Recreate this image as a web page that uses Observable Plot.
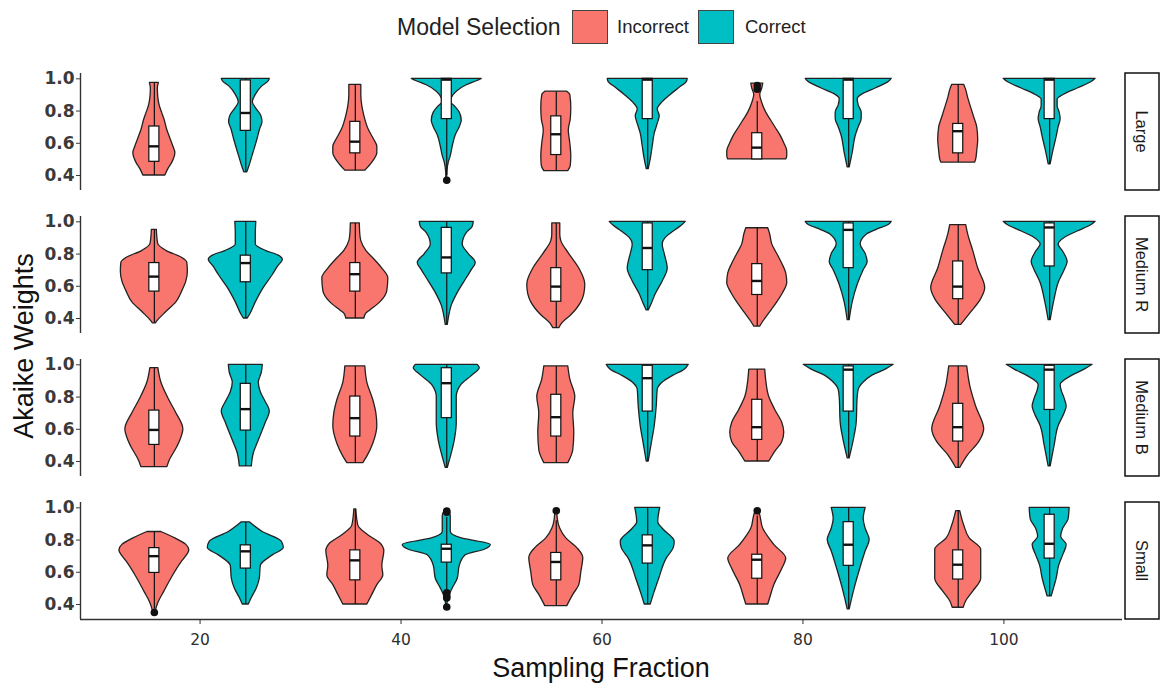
<!DOCTYPE html>
<html>
<head>
<meta charset="utf-8">
<script src="https://cdn.jsdelivr.net/npm/d3@7"></script>
<script src="https://cdn.jsdelivr.net/npm/@observablehq/plot@0.6"></script>
<style>
  html, body { margin: 0; padding: 0; background: #fff; }
  body { width: 1160px; height: 684px; overflow: hidden; font-family: "Liberation Sans", Arial, sans-serif; }
  #legend { position: relative; width: 1160px; height: 54px; }
  #legend .lt { position: absolute; top: 10px; height: 34px; line-height: 34px; font-size: 23px; color: #222; white-space: nowrap; }
  #legend .ll { position: absolute; top: 10px; height: 34px; line-height: 34px; font-size: 18.5px; color: #222; white-space: nowrap; }
  #legend .sw { position: absolute; top: 10px; width: 36px; height: 34px; box-sizing: border-box; border: 1px solid #444; }
  #chart svg { display: block; }
</style>
</head>
<body>
<div id="legend"></div>
<div id="chart"></div>
<script>
// ---------------- DATA ----------------
const panels = ["Large", "Medium R", "Medium B", "Small"];
const fractions = [20, 40, 60, 80, 100];
const selections = ["Incorrect", "Correct"];
const selectionColors = ["#F8766D", "#00BFC4"];
const xTicks = [20, 40, 60, 80, 100];
const yTicks = [0.4, 0.6, 0.8, 1.0];

// Violin profiles: [Akaike weight, half-width density], order per panel:
// 20 Incorrect, 20 Correct, 40 Incorrect, 40 Correct, ... 100 Correct
const largeProfiles = [
  [[0.975,4.5],[0.94,3.5],[0.88,4],[0.83,5.5],[0.79,7.7],[0.74,10.5],[0.69,12.5],[0.63,16],[0.58,19],[0.54,21],[0.48,18],[0.44,14],[0.40,11]],
  [[1.0,24],[0.985,23],[0.95,16],[0.90,10],[0.855,7],[0.81,11],[0.77,15.5],[0.73,16.7],[0.69,14.5],[0.625,11.7],[0.52,6.7],[0.44,2.7],[0.42,1.5]],
  [[0.9625,6],[0.90,6],[0.83,7],[0.77,9],[0.69,13],[0.62,19],[0.58,22],[0.54,22],[0.48,17],[0.43,10]],
  [[1.0,35],[0.985,30],[0.96,20],[0.92,10],[0.88,5],[0.855,4],[0.83,8],[0.79,13],[0.74,15],[0.70,13],[0.65,9],[0.58,6],[0.52,4],[0.48,2],[0.42,0.6],[0.371,0.4]],
  [[0.92,11],[0.90,14],[0.82,15],[0.75,14.5],[0.68,12.5],[0.60,14],[0.52,15],[0.46,14.5],[0.427,12]],
  [[1.0,40],[0.98,39],[0.94,31],[0.90,23],[0.855,15],[0.81,10],[0.77,12],[0.72,10],[0.66,7],[0.58,5],[0.50,3],[0.44,1]],
  [[0.97,6],[0.94,5],[0.90,3],[0.85,5],[0.79,9],[0.74,14],[0.69,19],[0.64,24],[0.60,27],[0.55,30],[0.52,30],[0.50,29]],
  [[1.0,43],[0.98,40],[0.94,27],[0.90,13],[0.875,9],[0.835,10],[0.79,13],[0.75,13],[0.70,10],[0.645,7],[0.54,4],[0.45,1]],
  [[0.9625,6],[0.93,8],[0.88,10],[0.82,13],[0.76,16],[0.70,19],[0.62,20],[0.55,19],[0.50,18],[0.48,17]],
  [[1.0,46],[0.98,42],[0.94,28],[0.90,14],[0.87,8],[0.83,8],[0.79,10],[0.75,11],[0.70,9],[0.64,7],[0.56,4],[0.47,1]]
];
const mediumRProfiles = [
  [[0.95,2.5],[0.90,3],[0.86,4],[0.82,12],[0.775,28],[0.745,33],[0.69,33.5],[0.63,32],[0.57,28],[0.50,22],[0.44,12],[0.39,4],[0.37,1.5]],
  [[1.0,10.5],[0.92,10],[0.86,10],[0.82,20],[0.79,33],[0.765,37],[0.72,32],[0.67,27],[0.59,18],[0.50,10],[0.42,4],[0.40,2]],
  [[0.99,4.5],[0.92,5],[0.88,6],[0.82,11],[0.76,20],[0.71,27],[0.65,33],[0.57,32],[0.50,25],[0.45,15],[0.43,11],[0.40,9]],
  [[1.0,27],[0.97,26],[0.93,20],[0.86,16],[0.80,22],[0.745,29],[0.70,25],[0.65,20],[0.57,12],[0.48,5],[0.40,2],[0.36,1]],
  [[0.99,4],[0.92,4],[0.88,5],[0.80,13],[0.71,23],[0.61,29],[0.55,28],[0.50,25],[0.42,15],[0.37,6],[0.34,3]],
  [[1.0,38],[0.975,34],[0.94,26],[0.90,18],[0.86,15],[0.80,17],[0.71,20],[0.63,15],[0.55,8],[0.49,4],[0.45,1]],
  [[0.96,11],[0.92,13],[0.86,15],[0.80,20],[0.74,25],[0.68,29],[0.62,30],[0.56,26],[0.50,20],[0.44,13],[0.38,6],[0.35,3]],
  [[1.0,43],[0.98,40],[0.95,28],[0.92,18],[0.86,12],[0.80,17],[0.75,19],[0.70,15],[0.61,9],[0.50,4],[0.39,1]],
  [[0.98,8],[0.92,10],[0.82,15],[0.71,20],[0.59,27],[0.52,23],[0.43,12],[0.36,3]],
  [[1.0,46],[0.98,42],[0.94,28],[0.90,15],[0.86,9],[0.81,14],[0.75,18],[0.70,15],[0.62,9],[0.52,5],[0.39,1]]
];
const mediumBProfiles = [
  [[0.98,4],[0.89,7],[0.78,15],[0.70,22],[0.60,29],[0.53,26],[0.49,23],[0.40,15],[0.365,13]],
  [[1.0,17],[0.95,16],[0.89,13],[0.83,15],[0.78,19],[0.71,24],[0.64,20],[0.53,13],[0.45,8],[0.37,6]],
  [[0.99,10],[0.89,12],[0.78,18],[0.70,21],[0.62,22],[0.51,18],[0.43,12],[0.39,8]],
  [[1.0,31],[0.98,33],[0.93,25],[0.87,14],[0.80,10],[0.71,10],[0.64,10],[0.53,8],[0.45,5],[0.36,1]],
  [[0.99,12],[0.91,14],[0.80,19],[0.70,17],[0.58,18],[0.47,17],[0.39,12]],
  [[1.0,41],[0.97,37],[0.93,25],[0.89,15],[0.845,10],[0.74,9],[0.62,7],[0.51,4],[0.40,1]],
  [[0.97,8],[0.90,9],[0.80,12],[0.72,18],[0.64,25],[0.58,27],[0.52,25],[0.46,18],[0.40,12]],
  [[1.0,45],[0.97,37],[0.93,23],[0.89,15],[0.845,10],[0.80,9],[0.64,8],[0.53,5],[0.42,1]],
  [[0.99,9],[0.87,12],[0.74,18],[0.60,26],[0.52,21],[0.44,10],[0.36,2]],
  [[1.0,43],[0.97,35],[0.93,22],[0.875,11],[0.84,12],[0.79,15],[0.74,17],[0.70,15],[0.62,9],[0.50,5],[0.37,1]]
];
const smallProfiles = [
  [[0.85,7],[0.81,21],[0.77,32],[0.735,35],[0.70,32],[0.66,27],[0.56,17],[0.48,10],[0.41,4],[0.35,1]],
  [[0.91,4],[0.85,17],[0.79,36],[0.75,38],[0.705,27],[0.64,15],[0.56,14],[0.50,11],[0.44,6],[0.40,3]],
  [[0.99,1],[0.89,3],[0.83,13],[0.78,25],[0.73,29],[0.64,27],[0.58,28],[0.52,22],[0.46,17],[0.40,12]],
  [[0.98,2],[0.95,4],[0.85,4],[0.81,15],[0.77,44],[0.74,38],[0.705,19],[0.64,13],[0.56,11],[0.50,6],[0.46,3],[0.42,1],[0.38,0.5]],
  [[0.98,1],[0.93,1.5],[0.87,4],[0.81,10],[0.75,21],[0.69,27],[0.60,25],[0.52,23],[0.46,17],[0.39,11]],
  [[1.0,12.5],[0.91,10.5],[0.87,15],[0.79,27],[0.75,26],[0.685,19],[0.56,11.5],[0.46,6],[0.40,3]],
  [[0.98,1],[0.97,2],[0.87,6],[0.77,17],[0.685,29],[0.62,25],[0.52,17],[0.44,13],[0.40,11]],
  [[1.0,17],[0.93,15],[0.87,17],[0.80,21],[0.73,17],[0.62,11.5],[0.50,6],[0.37,1]],
  [[0.98,2],[0.89,6],[0.81,11.5],[0.74,23],[0.64,23],[0.56,23],[0.48,15],[0.42,8],[0.38,5.5]],
  [[1.0,20],[0.93,19],[0.87,13.5],[0.82,11.5],[0.77,17],[0.705,13.5],[0.64,9.5],[0.56,7],[0.45,2]]
];

// Box statistics: [lower whisker, Q1, median, Q3, upper whisker]
const largeBoxes = [
  [0.40,0.485,0.581,0.704,0.975],[0.42,0.677,0.788,0.99,1.0],
  [0.43,0.5375,0.61,0.733,0.9625],[0.40,0.75,0.995,1.0,1.0],
  [0.427,0.527,0.656,0.767,0.92],[0.44,0.75,0.995,1.0,1.0],
  [0.50,0.50,0.573,0.6625,0.86],[0.45,0.75,0.995,1.0,1.0],
  [0.48,0.5375,0.675,0.72,0.9625],[0.47,0.75,0.995,1.0,1.0]
];
const mediumRBoxes = [
  [0.37,0.567,0.66,0.744,0.95],[0.40,0.625,0.744,0.79,1.0],
  [0.40,0.567,0.675,0.744,0.99],[0.36,0.68,0.779,0.9625,1.0],
  [0.34,0.504,0.598,0.7125,0.99],[0.45,0.70,0.8375,0.99,1.0],
  [0.35,0.546,0.633,0.7375,0.96],[0.39,0.7125,0.95,0.99,1.0],
  [0.36,0.52,0.598,0.754,0.98],[0.39,0.723,0.965,0.99,1.0]
];
const mediumBBoxes = [
  [0.365,0.503,0.596,0.716,0.98],[0.37,0.592,0.725,0.882,1.0],
  [0.39,0.555,0.669,0.803,0.99],[0.36,0.669,0.886,0.979,1.0],
  [0.39,0.555,0.675,0.814,0.99],[0.40,0.71,0.917,0.994,1.0],
  [0.40,0.534,0.613,0.783,0.97],[0.42,0.71,0.97,0.99,1.0],
  [0.36,0.524,0.613,0.758,0.99],[0.37,0.72,0.97,0.994,1.0]
];
const smallBoxes = [
  [0.37,0.596,0.70,0.75,0.85],[0.40,0.623,0.73,0.767,0.91],
  [0.40,0.55,0.674,0.736,0.99],[0.48,0.66,0.746,0.771,0.94],
  [0.39,0.55,0.664,0.72,0.92],[0.40,0.654,0.767,0.829,1.0],
  [0.40,0.56,0.678,0.709,0.95],[0.37,0.64,0.771,0.911,1.0],
  [0.38,0.555,0.647,0.736,0.98],[0.45,0.685,0.777,0.957,1.0]
];

// Outliers: [panel, sampling fraction, selection, Akaike weight]
const outliers = [
  ["Large",40,"Correct",0.371],["Large",80,"Incorrect",0.958],["Large",80,"Incorrect",0.935],
  ["Small",20,"Incorrect",0.35],["Small",40,"Correct",0.98],["Small",40,"Correct",0.972],
  ["Small",40,"Correct",0.472],["Small",40,"Correct",0.452],["Small",40,"Correct",0.44],
  ["Small",40,"Correct",0.385],["Small",60,"Incorrect",0.982],["Small",80,"Incorrect",0.982]
];

// ---------------- BUILD ----------------
const profilesByPanel = {"Large": largeProfiles, "Medium R": mediumRProfiles, "Medium B": mediumBProfiles, "Small": smallProfiles};
const boxesByPanel = {"Large": largeBoxes, "Medium R": mediumRBoxes, "Medium B": mediumBBoxes, "Small": smallBoxes};

const xDomain = [8.1, 111.8];
const yDomain = [0.307, 1.033];
const dodge = 4.55;          // half of the dodge step, in sampling-fraction units
const densScale = 1 / 10.05; // density -> x units
const boxHalf = 0.5;

const centerOf = (frac, sel) => frac + (sel === "Incorrect" ? -dodge : dodge);

const violinPts = [];
const boxRows = [];
panels.forEach(p => {
  profilesByPanel[p].forEach((prof, i) => {
    const frac = fractions[Math.floor(i / 2)];
    const sel = selections[i % 2];
    const cx = centerOf(frac, sel);
    const id = p + "|" + frac + "|" + sel;
    prof.slice().sort((a, b) => a[0] - b[0]).forEach(([y, w]) => {
      violinPts.push({panel: p, id, sel, y, x1: cx - w * densScale, x2: cx + w * densScale});
    });
    const [lo, q1, med, q3, hi] = boxesByPanel[p][i];
    boxRows.push({panel: p, sel, cx, lo, q1, med, q3, hi});
  });
});
const outlierRows = outliers.map(([panel, frac, sel, v]) => ({panel, sel, cx: centerOf(frac, sel), v}));

// ---------------- LEGEND ----------------
const legend = document.getElementById("legend");
const addEl = (cls, left, text, bg) => {
  const s = document.createElement("span");
  s.className = cls; s.style.left = left + "px";
  if (text) s.textContent = text;
  if (bg) s.style.background = bg;
  legend.appendChild(s);
};
addEl("lt", 397, "Model Selection");
addEl("sw", 572, null, selectionColors[0]);
addEl("ll", 617, selections[0]);
addEl("sw", 698, null, selectionColors[1]);
addEl("ll", 745, selections[1]);

// ---------------- PLOT ----------------
const W = 1160, H = 630;
const mL = 80, mR = 38, mT = 18, mB = 64;

const chart = Plot.plot({
  width: W, height: H,
  marginLeft: mL, marginRight: mR, marginTop: mT, marginBottom: mB,
  x: {domain: xDomain, axis: null},
  y: {domain: yDomain, axis: null},
  fy: {domain: panels, axis: null, paddingInner: 0.185, paddingOuter: 0},
  color: {domain: selections, range: selectionColors},
  style: {background: "white", fontFamily: "'DejaVu Sans', sans-serif", overflow: "visible"},
  marks: [
    Plot.ruleX([xDomain[0]], {stroke: "#333", strokeWidth: 1.4}),
    Plot.ruleY([{panel: panels[panels.length - 1], v: yDomain[0]}], {y: "v", fy: "panel", stroke: "#333", strokeWidth: 1.4}),
    Plot.axisY({ticks: yTicks, tickFormat: d => d.toFixed(1), tickSize: 4, tickPadding: 2,
      fontSize: 17, fontWeight: "bold", fontFamily: "DejaVu Sans", color: "#3a3a3a", label: null}),
    Plot.axisX({ticks: xTicks, tickSize: 5, tickPadding: 9, fontSize: 15.5,
      fontFamily: "DejaVu Sans", color: "#2e2e2e", label: null}),
    Plot.areaX(violinPts, {y: "y", x1: "x1", x2: "x2", z: "id", fill: "sel", fy: "panel",
      stroke: "#222", strokeWidth: 1.3, curve: "monotone-y"}),
    Plot.ruleX(boxRows, {x: "cx", y1: "lo", y2: "hi", fy: "panel", stroke: "#111", strokeWidth: 1.2}),
    Plot.rect(boxRows, {x1: d => d.cx - boxHalf, x2: d => d.cx + boxHalf, y1: "q1", y2: "q3", fy: "panel",
      fill: "white", stroke: "#111", strokeWidth: 1.2}),
    Plot.ruleY(boxRows, {y: "med", x1: d => d.cx - boxHalf, x2: d => d.cx + boxHalf, fy: "panel",
      stroke: "#111", strokeWidth: 2.4}),
    Plot.dot(outlierRows, {x: "cx", y: "v", fy: "panel", r: 3.8, fill: "#111", stroke: "none"})
  ]
});

document.getElementById("chart").appendChild(chart);

// Facet strips and axis titles
const svg = d3.select(chart);
let fyApply, bw;
try {
  const s = chart.scale("fy");
  fyApply = s.apply; bw = s.bandwidth;
} catch (e) {}
if (!fyApply || !bw) {
  const b = d3.scaleBand(panels, [mT, H - mB]).paddingInner(0.185).paddingOuter(0);
  fyApply = b; bw = b.bandwidth();
}
const stripX = W - mR + 3, stripW = 34;
panels.forEach(p => {
  const y0 = fyApply(p);
  svg.append("rect").attr("x", stripX).attr("y", y0).attr("width", stripW).attr("height", bw)
    .attr("fill", "white").attr("stroke", "#111").attr("stroke-width", 1.5);
  svg.append("text").attr("transform", `translate(${stripX + stripW / 2},${y0 + bw / 2}) rotate(90)`)
    .attr("text-anchor", "middle").attr("dominant-baseline", "central")
    .attr("font-family", "'Liberation Sans', Arial, sans-serif").attr("font-size", 16.5).attr("fill", "#1a1a1a")
    .text(p);
});
svg.append("text").attr("transform", `translate(33,${(mT + H - mB) / 2}) rotate(-90)`)
  .attr("text-anchor", "middle").attr("font-family", "'Liberation Sans', Arial, sans-serif")
  .attr("font-size", 27).attr("fill", "#111").text("Akaike Weights");
svg.append("text").attr("x", (mL + W - mR) / 2).attr("y", 623)
  .attr("text-anchor", "middle").attr("font-family", "'Liberation Sans', Arial, sans-serif")
  .attr("font-size", 27).attr("fill", "#111").text("Sampling Fraction");
</script>
</body>
</html>
